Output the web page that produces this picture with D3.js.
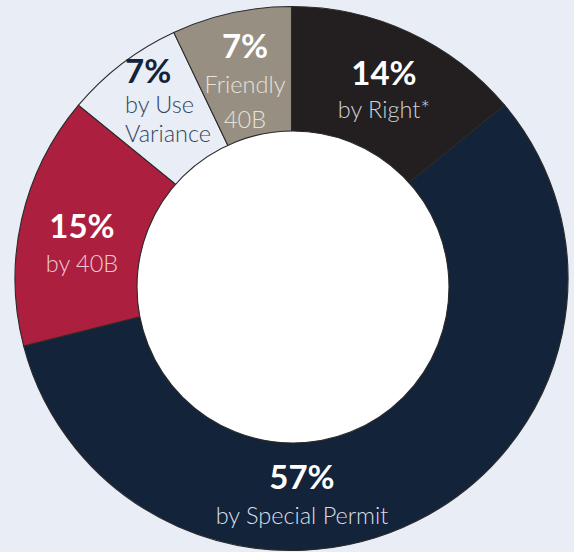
<!DOCTYPE html>
<html>
<head>
<meta charset="utf-8">
<script src="https://cdn.jsdelivr.net/npm/d3@7"></script>
<style>
  html, body { margin: 0; padding: 0; background: #e9edf5; }
  svg { display: block; }
  text { font-family: "Source Sans Pro", Lato, "Noto Sans", sans-serif; }
</style>
</head>
<body>
<svg id="chart" width="574" height="552"></svg>
<script>
// ---- data ----
const categories = ["by Right*", "by Special Permit", "by 40B", "by Use Variance", "Friendly 40B"];
const values = [14, 57, 15, 7, 7];
const pctLabels = ["14%", "57%", "15%", "7%", "7%"];
const subLabels = [["by Right*"], ["by Special Permit"], ["by 40B"], ["by Use", "Variance"], ["Friendly", "40B"]];

// ---- styling / layout ----
const fills = ["#231f20", "#13233a", "#ad1f3e", "#e9edf5", "#978f82"];
const pctColors = ["#ffffff", "#ffffff", "#ffffff", "#13233a", "#ffffff"];
const subColors = ["#d0d0d0", "#d9dee6", "#eecad2", "#34465f", "#e6e2da"];
// label block placement: x, baseline of pct, line gap, anchor
const labelLayout = [
  { x: 384, y: 85, gap: 33, sub0: 33, anchor: "middle" },
  { x: 302, y: 489, gap: 35, sub0: 35, anchor: "middle" },
  { x: 82, y: 238, gap: 34, sub0: 34, anchor: "middle" },
  { x: 125, y: 83, gap: 29, sub0: 30, anchor: "start" },
  { x: 245, y: 58, gap: 35, sub0: 35, anchor: "middle" }
];

const cx = 291.5, cy = 278.5, outerR = 276.5, yScale = 272 / 276.5;
const hole = { x: 293, y: 287, r: 156 };

const svg = d3.select("#chart");
svg.append("rect").attr("width", 574).attr("height", 552).attr("fill", "#e9edf5");

const data = categories.map((c, i) => ({ cat: c, value: values[i], i }));
const pie = d3.pie().value(d => d.value).sort(null).startAngle(0).endAngle(2 * Math.PI);
const arc = d3.arc().innerRadius(0).outerRadius(outerR);

const g = svg.append("g").attr("transform", `translate(${cx},${cy}) scale(1,${yScale})`);
g.selectAll("path.slice")
  .data(pie(data))
  .join("path")
  .attr("class", "slice")
  .attr("d", arc)
  .attr("fill", d => fills[d.data.i])
  .attr("stroke", "#2a2a2a")
  .attr("stroke-width", 1.1)
  .attr("vector-effect", "non-scaling-stroke");

// inner hole
svg.append("circle")
  .attr("cx", hole.x).attr("cy", hole.y).attr("r", hole.r)
  .attr("fill", "#ffffff")
  .attr("stroke", "#2a2a2a")
  .attr("stroke-width", 1.1);

// labels
const lg = svg.append("g");
data.forEach((d, i) => {
  const L = labelLayout[i];
  lg.append("text")
    .attr("x", L.x).attr("y", L.y)
    .attr("text-anchor", L.anchor)
    .attr("fill", pctColors[i])
    .attr("font-size", 33)
    .attr("font-weight", 700)
    .text(pctLabels[i]);
  subLabels[i].forEach((line, k) => {
    lg.append("text")
      .attr("x", L.x).attr("y", L.y + L.sub0 + k * L.gap)
      .attr("text-anchor", L.anchor)
      .attr("fill", subColors[i])
      .attr("font-size", 23.5)
      .attr("font-weight", 300)
      .text(line);
  });
});
</script>
</body>
</html>
